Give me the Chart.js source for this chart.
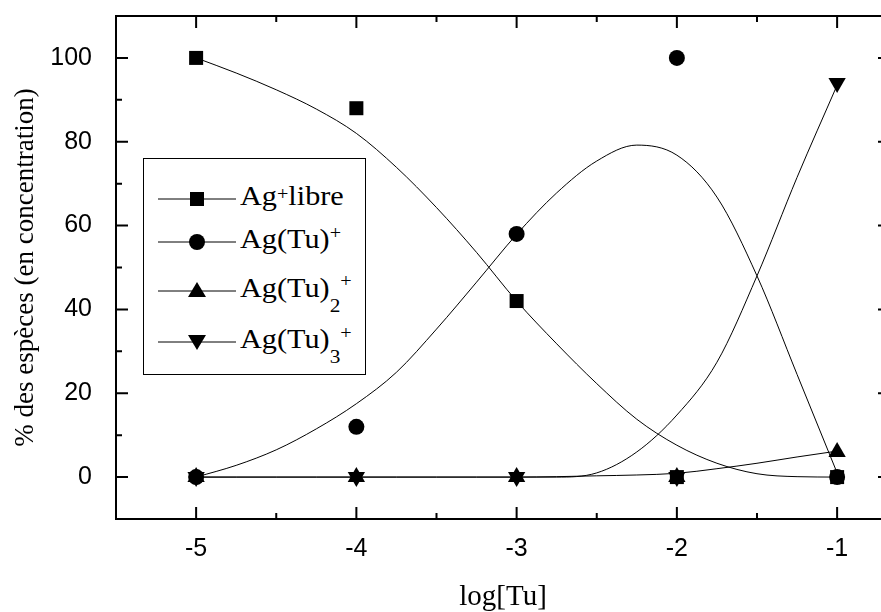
<!DOCTYPE html>
<html>
<head>
<meta charset="utf-8">
<script src="https://cdn.jsdelivr.net/npm/chart.js@4.4.1/dist/chart.umd.min.js"></script>
<style>
  html, body { margin:0; padding:0; background:#fff; overflow:hidden; }
  #wrap { position:relative; width:900px; height:612px; }
  #legende { position:absolute; left:143px; top:158px; width:221px; height:215px; border:1px solid #000; background:#fff;
             font-family:'Liberation Serif','Times New Roman',serif; color:#000; }
  .ligne { position:absolute; left:14px; height:30px; line-height:30px; font-size:27px; white-space:nowrap; }
  .ligne svg { vertical-align:middle; margin-right:4px; }
  .txt { display:inline-block; transform:scaleX(1.12); transform-origin:left center; }
  .sup { font-size:18px; position:relative; line-height:0; }
  .sub { font-size:19px; position:relative; line-height:0; top:15px; }
</style>
</head>
<body>
<div id="wrap">
  <canvas id="graphe" width="900" height="612"></canvas>
  <div id="legende">
    <div class="ligne" style="top:22px"><svg width="78" height="20"><line x1="0" y1="10" x2="78" y2="10" stroke="#000" stroke-width="1"/><rect x="32" y="3" width="14" height="14" fill="#000"/></svg><span class="txt">Ag<span class="sup" style="top:-5px">+</span>libre</span></div>
    <div class="ligne" style="top:65px"><svg width="78" height="20"><line x1="0" y1="10" x2="78" y2="10" stroke="#000" stroke-width="1"/><circle cx="39" cy="10" r="8" fill="#000"/></svg><span class="txt">Ag(Tu)<span class="sup" style="top:-9px">+</span></span></div>
    <div class="ligne" style="top:114px"><svg width="78" height="20"><line x1="0" y1="10" x2="78" y2="10" stroke="#000" stroke-width="1"/><polygon points="39,1 48,16 30,16" fill="#000"/></svg><span class="txt">Ag(Tu)<span class="sub">2</span><span class="sup" style="top:-10px">+</span></span></div>
    <div class="ligne" style="top:165px"><svg width="78" height="20"><line x1="0" y1="10" x2="78" y2="10" stroke="#000" stroke-width="1"/><polygon points="30,3 48,3 39,18" fill="#000"/></svg><span class="txt">Ag(Tu)<span class="sub">3</span><span class="sup" style="top:-9px">+</span></span></div>
  </div>
</div>
<script>
// points mesurés
const xPoints = [-5, -4, -3, -2, -1];
const agLibre = [100, 88, 42, 0, 0];
const agTu = [0, 12, 58, 100, 0];
const agTu2 = [0, 0, 0, 0, 6];
const agTu3 = [0, 0, 0, 0, 94];

// courbes lissées
const xCourbe = [-5, -4.75, -4.5, -4.25, -4, -3.75, -3.5, -3.25, -3, -2.75, -2.5, -2.25, -2, -1.75, -1.5, -1.25, -1];
const courbeLibre = [100, 96.4, 92.4, 87.8, 82, 73.9, 64.3, 53.6, 42, 31.8, 22.3, 13.8, 7.6, 3.3, 0.8, 0.1, 0];
const courbeTu = [0, 2.8, 6.5, 11.5, 17.5, 25.0, 35.3, 46.5, 57.9, 67.8, 75.4, 79.2, 76.8, 66.8, 48, 24.5, 1];
const courbeTu2 = [0, 0, 0, 0, 0, 0, 0, 0, 0, 0.1, 0.3, 0.5, 0.9, 2.0, 3.3, 4.8, 6.2];
const courbeTu3 = [0, 0, 0, 0, 0, 0, 0, 0, 0, 0, 1.0, 6, 14.8, 27.4, 48, 71.5, 93.5];

// graduations
const xMajor = [-5, -4, -3, -2, -1];
const xMinor = [-4.5, -3.5, -2.5, -1.5];
const yMajor = [0, 20, 40, 60, 80, 100];
const yMinor = [10, 30, 50, 70, 90];

function pts(xs, ys) {
  return xs.map((x, i) => ({x: x, y: ys[i]}));
}

function courbe(ys) {
  return {
    data: pts(xCourbe, ys),
    showLine: true,
    borderColor: '#000',
    borderWidth: 1,
    pointRadius: 0,
    cubicInterpolationMode: 'monotone'
  };
}

function marqueurs(ys, style, r, rot) {
  return {
    data: pts(xPoints, ys),
    showLine: false,
    pointStyle: style,
    pointRadius: r,
    pointRotation: rot || 0,
    backgroundColor: '#000',
    borderColor: '#000',
    borderWidth: 0
  };
}

// cadre + graduations vers l'intérieur
const cadre = {
  id: 'cadre',
  afterDraw(chart) {
    const ctx = chart.ctx, a = chart.chartArea, x = chart.scales.x, y = chart.scales.y;
    ctx.save();
    ctx.strokeStyle = '#000';
    ctx.lineWidth = 2;
    ctx.strokeRect(a.left, a.top, a.right - a.left, a.bottom - a.top);
    ctx.beginPath();
    function tx(v, l) {
      const p = x.getPixelForValue(v);
      ctx.moveTo(p, a.bottom); ctx.lineTo(p, a.bottom - l);
      ctx.moveTo(p, a.top); ctx.lineTo(p, a.top + l);
    }
    function ty(v, l) {
      const p = y.getPixelForValue(v);
      ctx.moveTo(a.left, p); ctx.lineTo(a.left + l, p);
      ctx.moveTo(a.right, p); ctx.lineTo(a.right - l, p);
    }
    xMajor.forEach(v => tx(v, 12));
    xMinor.forEach(v => tx(v, 6));
    yMajor.forEach(v => ty(v, 12));
    yMinor.forEach(v => ty(v, 6));
    ctx.stroke();
    ctx.restore();
  }
};

function sansMarge(s) {
  s.paddingTop = 0; s.paddingBottom = 0; s.paddingLeft = 0; s.paddingRight = 0;
}

new Chart(document.getElementById('graphe'), {
  type: 'scatter',
  data: {
    datasets: [
      courbe(courbeLibre),
      courbe(courbeTu),
      courbe(courbeTu2),
      courbe(courbeTu3),
      marqueurs(agLibre, 'rect', 9.9),
      marqueurs(agTu, 'circle', 8),
      marqueurs(agTu2, 'triangle', 10),
      marqueurs(agTu3, 'triangle', 10, 180)
    ]
  },
  options: {
    responsive: false,
    devicePixelRatio: 1,
    animation: false,
    events: [],
    layout: { padding: { left: 0, right: 10, top: 16, bottom: 0 } },
    plugins: { legend: { display: false }, tooltip: { enabled: false } },
    scales: {
      x: {
        type: 'linear',
        min: -5.5,
        max: -0.67,
        grid: { display: false },
        border: { display: false },
        afterBuildTicks: s => { s.ticks = xMajor.map(v => ({value: v})); },
        afterFit: s => { s.height = 93; sansMarge(s); },
        ticks: {
          color: '#000',
          padding: 7,
          maxRotation: 0,
          font: { family: "'Liberation Sans', Arial, sans-serif", size: 25 },
          callback: v => String(v)
        },
        title: {
          display: true,
          text: 'log[Tu]',
          color: '#000',
          font: { family: "'Liberation Serif', 'Times New Roman', serif", size: 29 },
          padding: { top: 0, bottom: -3 }
        }
      },
      y: {
        min: -10,
        max: 110,
        grid: { display: false },
        border: { display: false },
        afterBuildTicks: s => { s.ticks = yMajor.map(v => ({value: v})); },
        afterFit: s => { s.width = 116; sansMarge(s); },
        ticks: {
          color: '#000',
          padding: 16,
          font: { family: "'Liberation Sans', Arial, sans-serif", size: 25 },
          callback: v => String(v)
        },
        title: {
          display: true,
          text: '% des espèces (en concentration)',
          color: '#000',
          font: { family: "'Liberation Serif', 'Times New Roman', serif", size: 27 },
          padding: { top: 10, bottom: 0 }
        }
      }
    }
  },
  plugins: [cadre]
});
</script>
</body>
</html>
